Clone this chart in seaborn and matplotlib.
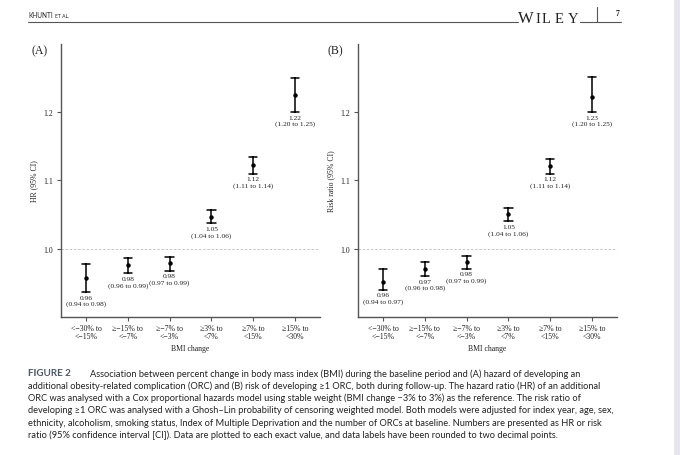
import pandas as pd
import matplotlib.pyplot as plt
import seaborn as sns
from matplotlib.lines import Line2D
from matplotlib.patches import Rectangle

# Categories (BMI change bands)
categories = ["<\u221230% to\n<\u221215%", "\u2265\u221215% to\n<\u22127%", "\u2265\u22127% to\n<\u22123%",
              "\u22653% to\n<7%", "\u22657% to\n<15%", "\u226515% to\n<30%"]

# Panel A: hazard ratio of an additional ORC
hr_est = [0.957, 0.976, 0.979, 1.047, 1.123, 1.225]
hr_lo = [0.937, 0.964, 0.968, 1.037, 1.110, 1.200]
hr_hi = [0.977, 0.987, 0.988, 1.057, 1.135, 1.250]
hr_labels = ["0.96\n(0.94 to 0.98)", "0.98\n(0.96 to 0.99)", "0.98\n(0.97 to 0.99)",
             "1.05\n(1.04 to 1.06)", "1.12\n(1.11 to 1.14)", "1.22\n(1.20 to 1.25)"]

# Panel B: risk ratio of developing >=1 ORC
rr_est = [0.951, 0.971, 0.980, 1.051, 1.121, 1.222]
rr_lo = [0.940, 0.960, 0.971, 1.040, 1.110, 1.200]
rr_hi = [0.971, 0.980, 0.990, 1.060, 1.132, 1.252]
rr_labels = ["0.96\n(0.94 to 0.97)", "0.97\n(0.96 to 0.98)", "0.98\n(0.97 to 0.99)",
             "1.05\n(1.04 to 1.06)", "1.12\n(1.11 to 1.14)", "1.23\n(1.20 to 1.25)"]

y_ticks = [1.0, 1.1, 1.2]
y_ticklabels = ["1.0", "1.1", "1.2"]

caption_lines = [
    "Association between percent change in body mass index (BMI) during the baseline period and (A) hazard of developing an",
    "additional obesity-related complication (ORC) and (B) risk of developing \u22651 ORC, both during follow-up. The hazard ratio (HR) of an additional",
    "ORC was analysed with a Cox proportional hazards model using stable weight (BMI change \u22123% to 3%) as the reference. The risk ratio of",
    "developing \u22651 ORC was analysed with a Ghosh\u2013Lin probability of censoring weighted model. Both models were adjusted for index year, age, sex,",
    "ethnicity, alcoholism, smoking status, Index of Multiple Deprivation and the number of ORCs at baseline. Numbers are presented as HR or risk",
    "ratio (95% confidence interval [CI]). Data are plotted to each exact value, and data labels have been rounded to two decimal points.",
]

SERIF = ["Liberation Serif", "DejaVu Serif"]
SANS = ["Lato", "DejaVu Sans"]
W, H = 680, 456


def long_table(lo, est, hi):
    # median of (lo, est, hi) is est, the full range is the CI
    rows = []
    for c, l, e, h in zip(categories, lo, est, hi):
        for v in (l, e, h):
            rows.append({"BMI change": c, "value": v})
    return pd.DataFrame(rows)


def draw_panel(ax, lo, est, hi, labels, ylabel):
    df = long_table(lo, est, hi)
    ax.axhline(1.0, color="#bdbdbd", lw=0.6, ls=(0, (3, 2)), zorder=0)
    sns.pointplot(data=df, x="BMI change", y="value", order=categories,
                  estimator="median", errorbar=("pi", 100), capsize=0.2,
                  color="black", linestyle="none", marker="o", markersize=3.2,
                  markeredgewidth=0, err_kws={"linewidth": 1.1}, ax=ax)
    for i, (l, lab) in enumerate(zip(lo, labels)):
        ax.annotate(lab, (i, l), xytext=(0, -2), textcoords="offset points",
                    ha="center", va="top", fontsize=5.3, linespacing=1.15,
                    family=SERIF, color="#222222")
    ax.set_xlim(-0.6, 5.6)
    ax.set_ylim(0.9, 1.3)
    ax.set_yticks(y_ticks)
    ax.set_yticklabels(y_ticklabels)
    ax.set_xlabel("BMI change", fontsize=5.6, family=SERIF, color="#222222")
    ax.set_ylabel(ylabel, fontsize=5.6, family=SERIF, color="#222222")
    ax.xaxis.set_label_coords(0.5, -0.1)
    ax.yaxis.set_label_coords(-0.088, 0.5)
    ax.xaxis.label.set_va("top")
    ax.tick_params(labelsize=5.6, length=3, width=0.8, color="#555555",
                   labelcolor="#222222", pad=2.5)
    ax.tick_params(axis="x", pad=1.8)
    for t in ax.get_xticklabels() + ax.get_yticklabels():
        t.set_family(SERIF)
        t.set_linespacing(1.05)
    sns.despine(ax=ax)
    for s in ("left", "bottom"):
        ax.spines[s].set_color("#555555")
        ax.spines[s].set_linewidth(1.0)


sns.set_style("ticks")
fig = plt.figure(figsize=(6.8, 4.56), dpi=100)

ax_a = fig.add_axes([61 / W, 1 - 318 / H, 259 / W, 273 / H])
ax_b = fig.add_axes([358 / W, 1 - 318 / H, 259 / W, 273 / H])
draw_panel(ax_a, hr_lo, hr_est, hr_hi, hr_labels, "HR (95% CI)")
draw_panel(ax_b, rr_lo, rr_est, rr_hi, rr_labels, "Risk ratio (95% CI)")

fig.text(32 / W, 1 - 51 / H, "(A)", fontsize=8.5, family=SERIF, va="center", color="#222222")
fig.text(328 / W, 1 - 51 / H, "(B)", fontsize=8.5, family=SERIF, va="center", color="#222222")

# running head
fig.text(28 / W, 1 - 16 / H, "KHUNTI", fontsize=4.7, family=SANS, va="center", color="#222222")
fig.text(55 / W, 1 - 16.4 / H, "ET AL.", fontsize=3.6, family=SANS, va="center", color="#222222")
fig.add_artist(Line2D([28 / W, 518 / W], [1 - 22.7 / H] * 2, color="#555555", lw=0.8))
for x, ch, fs in [(518, "W", 12), (535.5, "I", 10.5), (541.5, "L", 10.5), (554.5, "E", 10.5), (567.5, "Y", 10.5)]:
    fig.text(x / W, 1 - 22.7 / H, ch, fontsize=fs, family=SERIF, va="baseline", color="#222222")
fig.add_artist(Line2D([580 / W, 621 / W], [1 - 22.7 / H] * 2, color="#555555", lw=0.8))
fig.add_artist(Line2D([597 / W, 597 / W], [1 - 8 / H, 1 - 22.7 / H], color="#555555", lw=0.8))
fig.text(616 / W, 1 - 14 / H, "7", fontsize=5.5, family=SERIF, weight="bold", va="center", color="#222222")
fig.add_artist(Rectangle((674 / W, 0), 6 / W, 1, transform=fig.transFigure,
                         color="#e6e6ec", lw=0))

# caption
cap_y = [374, 386.3, 398.6, 411, 423.2, 435.5]
fig.text(28 / W, 1 - cap_y[0] / H, "FIGURE 2", fontsize=7.0, family=SANS, weight="bold",
         color="#4d5766", va="center")
for i, (line, y) in enumerate(zip(caption_lines, cap_y)):
    x = 90 if i == 0 else 28
    fig.text(x / W, 1 - y / H, line, fontsize=6.65, family=SANS, va="center", color="#222222")

fig.savefig("out.png", dpi=100)
